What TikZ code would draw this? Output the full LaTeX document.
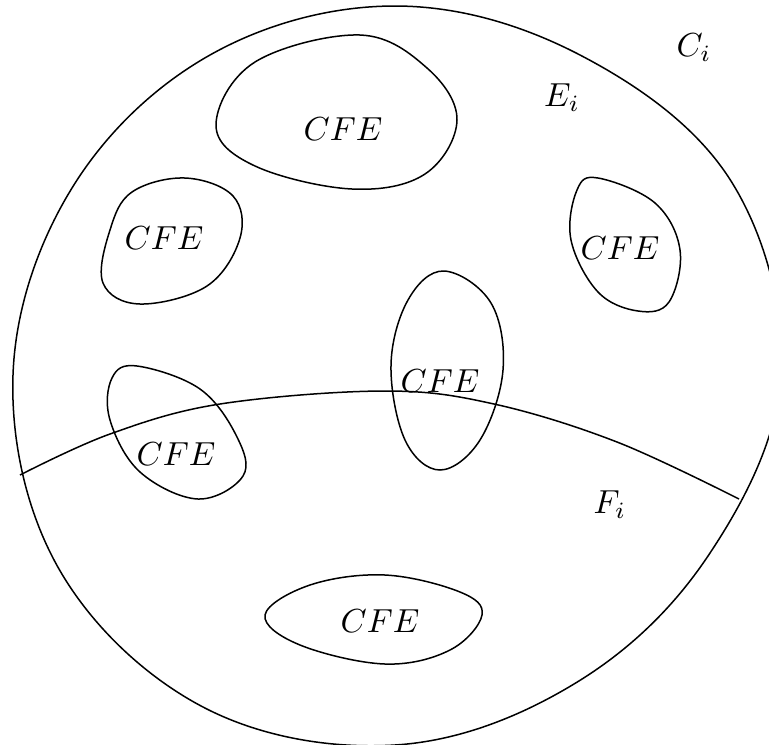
\documentclass[tikz,border=0pt]{standalone}
\begin{document}
\begin{tikzpicture}[x=0.3pt,y=-0.3pt,region/.style={draw=black,line width=0.45pt},blob/.style={draw=black,line width=0.45pt},tag/.style={inner sep=0pt}]
\useasboundingbox (0,0) rectangle (769,744);
\begin{scope}
\clip (0,0) rectangle (769,744);
\draw[region] plot[smooth cycle,tension=0.62] coordinates {(395,6) (580,55) (731,181) (781,375) (708,556) (574,684) (395,745) (203,707) (59,569) (13,375) (72,188) (210,55)};
\end{scope}
\coordinate (arcL) at (20,475);
\coordinate (arcR) at (739,499);
\draw[region] plot[smooth,tension=0.6] coordinates {(arcL) (110,434) (220,404) (385,391) (494,404) (617,442) (arcR)};
\draw[blob] plot[smooth cycle,tension=0.62] coordinates {(360,35) (427,68) (457,120) (425,174) (352,189) (255,166) (216,125) (255,62)};
\draw[blob] plot[smooth cycle,tension=0.62] coordinates {(185,178) (233,196) (240,238) (207,286) (140,304) (103,283) (110,230) (132,192)};
\draw[blob] plot[smooth cycle,tension=0.62] coordinates {(598,178) (655,203) (680,250) (669,302) (638,311) (598,292) (571,240) (577,190)};
\draw[blob] plot[smooth cycle,tension=0.62] coordinates {(444,271) (491,303) (503,370) (480,440) (440,470) (405,440) (391,365) (408,300)};
\draw[blob] plot[smooth cycle,tension=0.62] coordinates {(137,366) (200,389) (237,437) (243,476) (198,499) (140,472) (110,420) (112,378)};
\draw[blob] plot[smooth cycle,tension=0.62] coordinates {(385,575) (460,592) (482,615) (450,650) (385,664) (300,645) (265,615) (310,585)};
\node[tag] (cfeTop) at (343,129) {$CFE$};
\node[tag] (cfeLeft) at (164,238) {$CFE$};
\node[tag] (cfeRight) at (620,248) {$CFE$};
\node[tag] (cfeMid) at (440,381) {$CFE$};
\node[tag] (cfeLow) at (176,454) {$CFE$};
\node[tag] (cfeBottom) at (380,621) {$CFE$};
\node[tag] (labC) at (694,48) {$C_i$};
\node[tag] (labE) at (562,98) {$E_i$};
\node[tag] (labF) at (610,505) {$F_i$};
\end{tikzpicture}
\end{document}
